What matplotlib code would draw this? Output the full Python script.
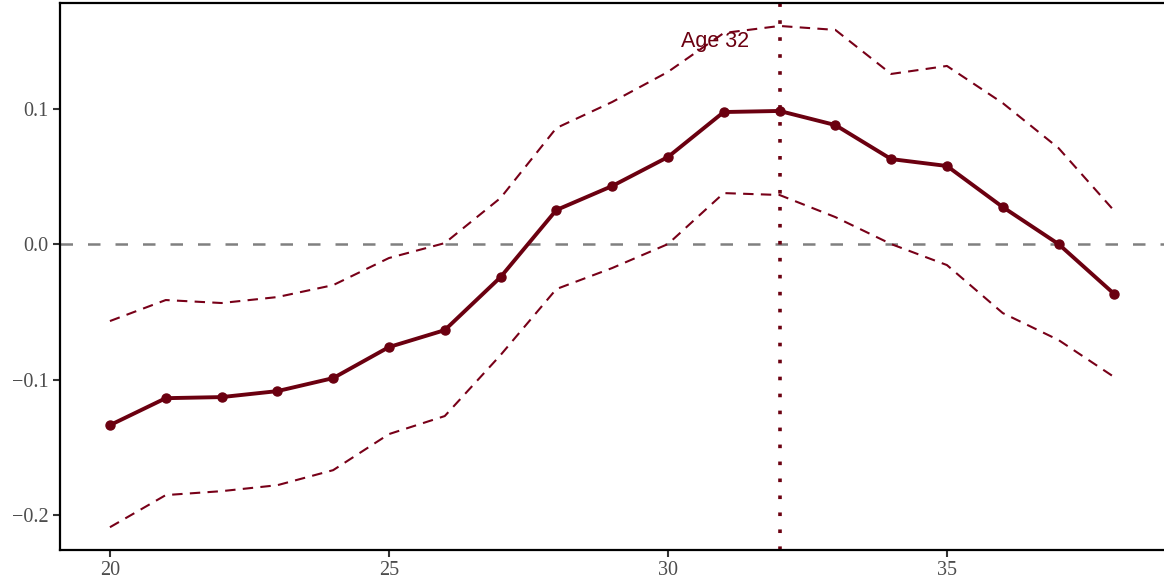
import matplotlib
matplotlib.use('Agg')
import matplotlib.pyplot as plt

# data
ages = [20, 21, 22, 23, 24, 25, 26, 27, 28, 29, 30, 31, 32, 33, 34, 35, 36, 37, 38]
estimate = [-0.1336, -0.1137, -0.1129, -0.1085, -0.0989, -0.0760, -0.0635, -0.0244, 0.0251,
            0.0428, 0.0642, 0.0974, 0.0982, 0.0878, 0.0627, 0.0576, 0.0273, 0.0000, -0.0369]
upper = [-0.0568, -0.0413, -0.0435, -0.0391, -0.0303, -0.0103, 0.0007, 0.0340, 0.0856,
         0.1048, 0.1270, 0.1557, 0.1609, 0.1580, 0.1255, 0.1314, 0.1040, 0.0708, 0.0244]
lower = [-0.2089, -0.1852, -0.1823, -0.1779, -0.1668, -0.1402, -0.1269, -0.0819, -0.0332,
         -0.0177, 0.0000, 0.0376, 0.0362, 0.0199, 0.0000, -0.0155, -0.0509, -0.0708, -0.0982]
peak_age = 32
xticks = [20, 25, 30, 35]
yticks = [-0.2, -0.1, 0.0, 0.1]

red = '#6b0010'
band_red = '#780018'

fig = plt.figure(figsize=(11.64, 5.84), dpi=100)
ax = fig.add_axes([0.0515, 0.058, 0.9485, 0.937])

ax.axhline(0, color='#808080', linestyle=(0, (5, 6)), linewidth=1.8, zorder=1)
ax.axvline(peak_age, color=red, linestyle=(0, (1, 3.7)), linewidth=2.6, zorder=1)

ax.plot(ages, upper, color=band_red, linestyle=(0, (5, 3.5)), linewidth=1.5)
ax.plot(ages, lower, color=band_red, linestyle=(0, (5, 3.5)), linewidth=1.5)
ax.plot(ages, estimate, color=red, linewidth=2.8, marker='o', markersize=6.5, zorder=3)

# label of the peak line
ax.text(30.85, 0.1454, 'Age 32', color=red, fontsize=15.5,
        family='Liberation Sans', ha='center', va='baseline')

ax.set_xlim(19.104, 38.89)
ax.set_ylim(-0.2258, 0.1779)
ax.set_xticks(xticks)
ax.set_xticklabels([str(t) for t in xticks])
ax.set_yticks(yticks)
ax.set_yticklabels(['\u22120.2', '\u22120.1', '0.0', '0.1'])

for lab in ax.get_xticklabels() + ax.get_yticklabels():
    lab.set_family('Liberation Serif')
    lab.set_fontsize(14.5)
    lab.set_color('#4d4d4d')
ax.tick_params(length=5, width=1.5, color='#333333', pad=3)

for s in ['left', 'top', 'bottom']:
    ax.spines[s].set_linewidth(1.6)
    ax.spines[s].set_color('black')
ax.spines['right'].set_visible(False)

fig.savefig('out.png', dpi=100)
